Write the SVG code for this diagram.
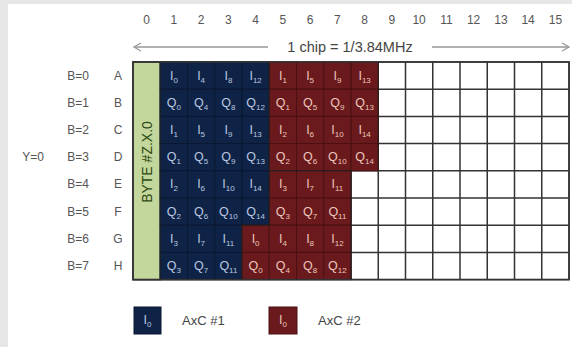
<svg xmlns="http://www.w3.org/2000/svg" width="572" height="347" viewBox="0 0 572 347">
<defs>
<style>
.lbl{font-family:"Liberation Sans",Arial,sans-serif;font-size:12px;fill:#555;text-anchor:middle}
.rl{font-family:"Liberation Sans",Arial,sans-serif;font-size:12px;fill:#555;text-anchor:middle}
.n{fill:#0f2346;stroke:#0a1832;stroke-width:1}
.r{fill:#6a1a1c;stroke:#4a1012;stroke-width:1}
.tn{font-family:"Liberation Sans",Arial,sans-serif;font-size:12.5px;fill:#b9c8e2;text-anchor:middle}
.tr{font-family:"Liberation Sans",Arial,sans-serif;font-size:12.5px;fill:#ecc6bd;text-anchor:middle}
.s{font-size:8px}
.leg{font-family:"Liberation Sans",Arial,sans-serif;font-size:13px;fill:#444}
</style>
<marker id="ah" markerWidth="10" markerHeight="10" refX="8" refY="5" orient="auto-start-reverse" markerUnits="userSpaceOnUse">
<path d="M1,1 L8,5 L1,9" fill="none" stroke="#999" stroke-width="1.3"/>
</marker>
</defs>
<rect x="0" y="0" width="572" height="347" fill="#e6e6e6"/>
<rect x="8" y="4" width="564" height="343" fill="#fff"/>

<g id="column-labels">
<text class="lbl" x="146.6" y="24">0</text><text class="lbl" x="173.9" y="24">1</text><text class="lbl" x="201.1" y="24">2</text><text class="lbl" x="228.4" y="24">3</text><text class="lbl" x="255.6" y="24">4</text><text class="lbl" x="282.9" y="24">5</text><text class="lbl" x="310.1" y="24">6</text><text class="lbl" x="337.4" y="24">7</text><text class="lbl" x="364.6" y="24">8</text><text class="lbl" x="391.9" y="24">9</text><text class="lbl" x="419.1" y="24">10</text><text class="lbl" x="446.4" y="24">11</text><text class="lbl" x="473.6" y="24">12</text><text class="lbl" x="500.9" y="24">13</text><text class="lbl" x="528.1" y="24">14</text><text class="lbl" x="555.4" y="24">15</text>
</g>

<g id="connectors">
<line x1="134" y1="47" x2="268" y2="47" stroke="#999" stroke-width="1.3" marker-start="url(#ah)"/>
<line x1="432" y1="47" x2="569" y2="47" stroke="#999" stroke-width="1.3" marker-end="url(#ah)"/>
</g>
<text class="lbl" x="350" y="52" style="font-size:14.5px;fill:#444">1 chip = 1/3.84MHz</text>

<g id="row-labels">
<text class="rl" x="78" y="79.6">B=0</text><text class="rl" x="118" y="79.6">A</text>
<text class="rl" x="78" y="106.8">B=1</text><text class="rl" x="118" y="106.8">B</text>
<text class="rl" x="78" y="134">B=2</text><text class="rl" x="118" y="134">C</text>
<text class="rl" x="78" y="161.2">B=3</text><text class="rl" x="118" y="161.2">D</text>
<text class="rl" x="78" y="188.4">B=4</text><text class="rl" x="118" y="188.4">E</text>
<text class="rl" x="78" y="215.6">B=5</text><text class="rl" x="118" y="215.6">F</text>
<text class="rl" x="78" y="242.8">B=6</text><text class="rl" x="118" y="242.8">G</text>
<text class="rl" x="78" y="270">B=7</text><text class="rl" x="118" y="270">H</text>
<text class="rl" x="33" y="161.2">Y=0</text>
</g>

<g id="grid">
<rect x="133" y="62" width="436" height="217.6" fill="#fff" stroke="#333" stroke-width="1.5"/>
<path d="M378.25,62V279.6M405.5,62V279.6M432.75,62V279.6M460,62V279.6M487.25,62V279.6M514.5,62V279.6M541.75,62V279.6M351,170.8V279.6M133,89.2H569M133,116.4H569M133,143.6H569M133,170.8H569M133,198H569M133,225.2H569M133,252.4H569" stroke="#333" stroke-width="1.5" fill="none"/>
</g>

<g id="byte-column">
<rect x="133" y="62" width="27.25" height="217.6" fill="#c3d69b" stroke="#333" stroke-width="1.5"/>
<text x="152" y="162" transform="rotate(-90 152 162)" text-anchor="middle" style="font-family:'Liberation Sans',Arial,sans-serif;font-size:14px;fill:#2e4a12">BYTE #Z.X.0</text>
</g>

<g id="axc1-cells">
<rect class="n" x="160.25" y="62" width="27.25" height="27.2"/><rect class="n" x="187.5" y="62" width="27.25" height="27.2"/><rect class="n" x="214.75" y="62" width="27.25" height="27.2"/><rect class="n" x="242" y="62" width="27.25" height="27.2"/>
<rect class="n" x="160.25" y="89.2" width="27.25" height="27.2"/><rect class="n" x="187.5" y="89.2" width="27.25" height="27.2"/><rect class="n" x="214.75" y="89.2" width="27.25" height="27.2"/><rect class="n" x="242" y="89.2" width="27.25" height="27.2"/>
<rect class="n" x="160.25" y="116.4" width="27.25" height="27.2"/><rect class="n" x="187.5" y="116.4" width="27.25" height="27.2"/><rect class="n" x="214.75" y="116.4" width="27.25" height="27.2"/><rect class="n" x="242" y="116.4" width="27.25" height="27.2"/>
<rect class="n" x="160.25" y="143.6" width="27.25" height="27.2"/><rect class="n" x="187.5" y="143.6" width="27.25" height="27.2"/><rect class="n" x="214.75" y="143.6" width="27.25" height="27.2"/><rect class="n" x="242" y="143.6" width="27.25" height="27.2"/>
<rect class="n" x="160.25" y="170.8" width="27.25" height="27.2"/><rect class="n" x="187.5" y="170.8" width="27.25" height="27.2"/><rect class="n" x="214.75" y="170.8" width="27.25" height="27.2"/><rect class="n" x="242" y="170.8" width="27.25" height="27.2"/>
<rect class="n" x="160.25" y="198" width="27.25" height="27.2"/><rect class="n" x="187.5" y="198" width="27.25" height="27.2"/><rect class="n" x="214.75" y="198" width="27.25" height="27.2"/><rect class="n" x="242" y="198" width="27.25" height="27.2"/>
<rect class="n" x="160.25" y="225.2" width="27.25" height="27.2"/><rect class="n" x="187.5" y="225.2" width="27.25" height="27.2"/><rect class="n" x="214.75" y="225.2" width="27.25" height="27.2"/>
<rect class="n" x="160.25" y="252.4" width="27.25" height="27.2"/><rect class="n" x="187.5" y="252.4" width="27.25" height="27.2"/><rect class="n" x="214.75" y="252.4" width="27.25" height="27.2"/>
<text class="tn" x="173.9" y="79.6">I<tspan class="s" dy="3">0</tspan></text><text class="tn" x="201.1" y="79.6">I<tspan class="s" dy="3">4</tspan></text><text class="tn" x="228.4" y="79.6">I<tspan class="s" dy="3">8</tspan></text><text class="tn" x="255.6" y="79.6">I<tspan class="s" dy="3">12</tspan></text>
<text class="tn" x="173.9" y="106.8">Q<tspan class="s" dy="3">0</tspan></text><text class="tn" x="201.1" y="106.8">Q<tspan class="s" dy="3">4</tspan></text><text class="tn" x="228.4" y="106.8">Q<tspan class="s" dy="3">8</tspan></text><text class="tn" x="255.6" y="106.8">Q<tspan class="s" dy="3">12</tspan></text>
<text class="tn" x="173.9" y="134">I<tspan class="s" dy="3">1</tspan></text><text class="tn" x="201.1" y="134">I<tspan class="s" dy="3">5</tspan></text><text class="tn" x="228.4" y="134">I<tspan class="s" dy="3">9</tspan></text><text class="tn" x="255.6" y="134">I<tspan class="s" dy="3">13</tspan></text>
<text class="tn" x="173.9" y="161.2">Q<tspan class="s" dy="3">1</tspan></text><text class="tn" x="201.1" y="161.2">Q<tspan class="s" dy="3">5</tspan></text><text class="tn" x="228.4" y="161.2">Q<tspan class="s" dy="3">9</tspan></text><text class="tn" x="255.6" y="161.2">Q<tspan class="s" dy="3">13</tspan></text>
<text class="tn" x="173.9" y="188.4">I<tspan class="s" dy="3">2</tspan></text><text class="tn" x="201.1" y="188.4">I<tspan class="s" dy="3">6</tspan></text><text class="tn" x="228.4" y="188.4">I<tspan class="s" dy="3">10</tspan></text><text class="tn" x="255.6" y="188.4">I<tspan class="s" dy="3">14</tspan></text>
<text class="tn" x="173.9" y="215.6">Q<tspan class="s" dy="3">2</tspan></text><text class="tn" x="201.1" y="215.6">Q<tspan class="s" dy="3">6</tspan></text><text class="tn" x="228.4" y="215.6">Q<tspan class="s" dy="3">10</tspan></text><text class="tn" x="255.6" y="215.6">Q<tspan class="s" dy="3">14</tspan></text>
<text class="tn" x="173.9" y="242.8">I<tspan class="s" dy="3">3</tspan></text><text class="tn" x="201.1" y="242.8">I<tspan class="s" dy="3">7</tspan></text><text class="tn" x="228.4" y="242.8">I<tspan class="s" dy="3">11</tspan></text>
<text class="tn" x="173.9" y="270">Q<tspan class="s" dy="3">3</tspan></text><text class="tn" x="201.1" y="270">Q<tspan class="s" dy="3">7</tspan></text><text class="tn" x="228.4" y="270">Q<tspan class="s" dy="3">11</tspan></text>
</g>

<g id="axc2-cells">
<rect class="r" x="269.25" y="62" width="27.25" height="27.2"/><rect class="r" x="296.5" y="62" width="27.25" height="27.2"/><rect class="r" x="323.75" y="62" width="27.25" height="27.2"/><rect class="r" x="351" y="62" width="27.25" height="27.2"/>
<rect class="r" x="269.25" y="89.2" width="27.25" height="27.2"/><rect class="r" x="296.5" y="89.2" width="27.25" height="27.2"/><rect class="r" x="323.75" y="89.2" width="27.25" height="27.2"/><rect class="r" x="351" y="89.2" width="27.25" height="27.2"/>
<rect class="r" x="269.25" y="116.4" width="27.25" height="27.2"/><rect class="r" x="296.5" y="116.4" width="27.25" height="27.2"/><rect class="r" x="323.75" y="116.4" width="27.25" height="27.2"/><rect class="r" x="351" y="116.4" width="27.25" height="27.2"/>
<rect class="r" x="269.25" y="143.6" width="27.25" height="27.2"/><rect class="r" x="296.5" y="143.6" width="27.25" height="27.2"/><rect class="r" x="323.75" y="143.6" width="27.25" height="27.2"/><rect class="r" x="351" y="143.6" width="27.25" height="27.2"/>
<rect class="r" x="269.25" y="170.8" width="27.25" height="27.2"/><rect class="r" x="296.5" y="170.8" width="27.25" height="27.2"/><rect class="r" x="323.75" y="170.8" width="27.25" height="27.2"/>
<rect class="r" x="269.25" y="198" width="27.25" height="27.2"/><rect class="r" x="296.5" y="198" width="27.25" height="27.2"/><rect class="r" x="323.75" y="198" width="27.25" height="27.2"/>
<rect class="r" x="242" y="225.2" width="27.25" height="27.2"/><rect class="r" x="269.25" y="225.2" width="27.25" height="27.2"/><rect class="r" x="296.5" y="225.2" width="27.25" height="27.2"/><rect class="r" x="323.75" y="225.2" width="27.25" height="27.2"/>
<rect class="r" x="242" y="252.4" width="27.25" height="27.2"/><rect class="r" x="269.25" y="252.4" width="27.25" height="27.2"/><rect class="r" x="296.5" y="252.4" width="27.25" height="27.2"/><rect class="r" x="323.75" y="252.4" width="27.25" height="27.2"/>
<text class="tr" x="282.9" y="79.6">I<tspan class="s" dy="3">1</tspan></text><text class="tr" x="310.1" y="79.6">I<tspan class="s" dy="3">5</tspan></text><text class="tr" x="337.4" y="79.6">I<tspan class="s" dy="3">9</tspan></text><text class="tr" x="364.6" y="79.6">I<tspan class="s" dy="3">13</tspan></text>
<text class="tr" x="282.9" y="106.8">Q<tspan class="s" dy="3">1</tspan></text><text class="tr" x="310.1" y="106.8">Q<tspan class="s" dy="3">5</tspan></text><text class="tr" x="337.4" y="106.8">Q<tspan class="s" dy="3">9</tspan></text><text class="tr" x="364.6" y="106.8">Q<tspan class="s" dy="3">13</tspan></text>
<text class="tr" x="282.9" y="134">I<tspan class="s" dy="3">2</tspan></text><text class="tr" x="310.1" y="134">I<tspan class="s" dy="3">6</tspan></text><text class="tr" x="337.4" y="134">I<tspan class="s" dy="3">10</tspan></text><text class="tr" x="364.6" y="134">I<tspan class="s" dy="3">14</tspan></text>
<text class="tr" x="282.9" y="161.2">Q<tspan class="s" dy="3">2</tspan></text><text class="tr" x="310.1" y="161.2">Q<tspan class="s" dy="3">6</tspan></text><text class="tr" x="337.4" y="161.2">Q<tspan class="s" dy="3">10</tspan></text><text class="tr" x="364.6" y="161.2">Q<tspan class="s" dy="3">14</tspan></text>
<text class="tr" x="282.9" y="188.4">I<tspan class="s" dy="3">3</tspan></text><text class="tr" x="310.1" y="188.4">I<tspan class="s" dy="3">7</tspan></text><text class="tr" x="337.4" y="188.4">I<tspan class="s" dy="3">11</tspan></text>
<text class="tr" x="282.9" y="215.6">Q<tspan class="s" dy="3">3</tspan></text><text class="tr" x="310.1" y="215.6">Q<tspan class="s" dy="3">7</tspan></text><text class="tr" x="337.4" y="215.6">Q<tspan class="s" dy="3">11</tspan></text>
<text class="tr" x="255.6" y="242.8">I<tspan class="s" dy="3">0</tspan></text><text class="tr" x="282.9" y="242.8">I<tspan class="s" dy="3">4</tspan></text><text class="tr" x="310.1" y="242.8">I<tspan class="s" dy="3">8</tspan></text><text class="tr" x="337.4" y="242.8">I<tspan class="s" dy="3">12</tspan></text>
<text class="tr" x="255.6" y="270">Q<tspan class="s" dy="3">0</tspan></text><text class="tr" x="282.9" y="270">Q<tspan class="s" dy="3">4</tspan></text><text class="tr" x="310.1" y="270">Q<tspan class="s" dy="3">8</tspan></text><text class="tr" x="337.4" y="270">Q<tspan class="s" dy="3">12</tspan></text>
</g>

<g id="grid-outline">
<rect x="133" y="62" width="436" height="217.6" fill="none" stroke="#333" stroke-width="1.5"/>
<path d="M160.25,62V279.6M378.25,62V170.8M351,170.8V279.6M269.25,170.8H351M269.25,62V225.2M242,225.2V279.6M242,225.2H269.25" stroke="#222" stroke-width="1" fill="none"/>
</g>

<g id="legend-axc1">
<rect x="134" y="307" width="27" height="27" fill="#0f2346" stroke="#0a1832"/>
<text class="tn" x="147.5" y="324">I<tspan class="s" dy="3">0</tspan></text>
<text class="leg" x="182" y="325">AxC #1</text>
</g>
<g id="legend-axc2">
<rect x="269" y="307" width="28" height="27" fill="#6a1a1c" stroke="#4a1012"/>
<text class="tr" x="283" y="324">I<tspan class="s" dy="3">0</tspan></text>
<text class="leg" x="318" y="325">AxC #2</text>
</g>
</svg>
